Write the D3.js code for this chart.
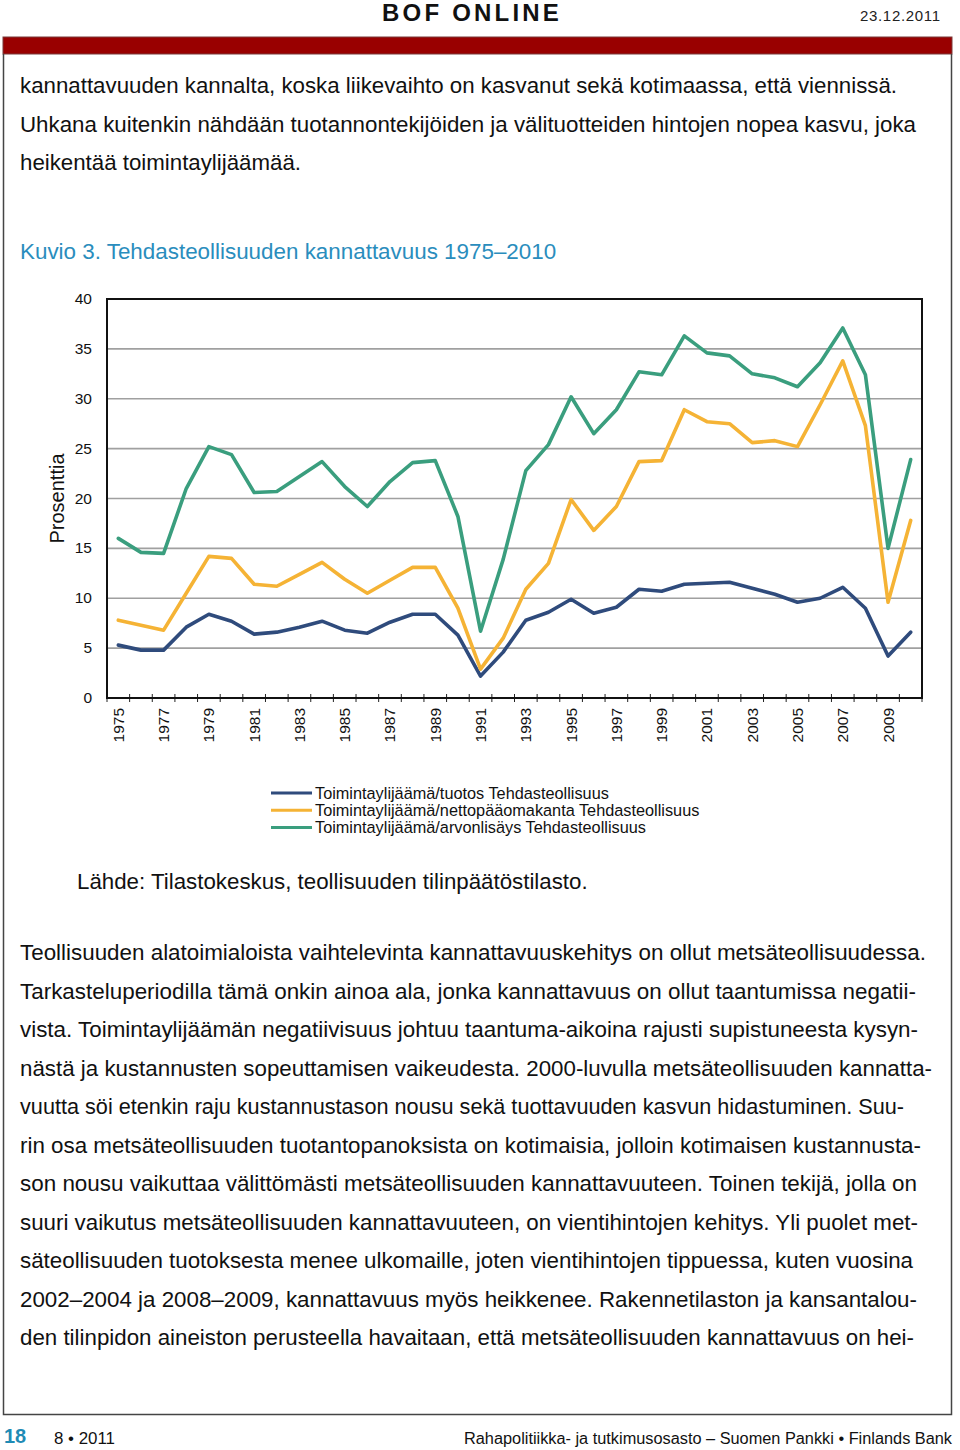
<!DOCTYPE html>
<html><head><meta charset="utf-8">
<script src="https://cdn.jsdelivr.net/npm/d3@7"></script>
<style>
html,body{margin:0;padding:0;background:#fff;}
svg{display:block;font-family:"Liberation Sans",Arial,sans-serif;}
</style></head>
<body>
<script>
const years = d3.range(1975, 2011);
const tickYears = d3.range(1975, 2011, 2);
const yTicks = [0,5,10,15,20,25,30,35,40];
const seriesNames = [
  "Toimintaylijäämä/tuotos Tehdasteollisuus",
  "Toimintaylijäämä/nettopääomakanta Tehdasteollisuus",
  "Toimintaylijäämä/arvonlisäys Tehdasteollisuus"
];
const tuotos = [5.3,4.8,4.8,7.1,8.4,7.7,6.4,6.6,7.1,7.7,6.8,6.5,7.6,8.4,8.4,6.3,2.2,4.6,7.8,8.6,9.9,8.5,9.1,10.9,10.7,11.4,11.5,11.6,11.0,10.4,9.6,10.0,11.1,9.0,4.2,6.6];
const nettopaaoma = [7.8,7.3,6.8,10.5,14.2,14.0,11.4,11.2,12.4,13.6,11.9,10.5,11.8,13.1,13.1,9.0,2.9,6.0,10.9,13.5,19.9,16.8,19.2,23.7,23.8,28.9,27.7,27.5,25.6,25.8,25.2,29.4,33.8,27.3,9.6,17.8];
const arvonlisays = [16.0,14.6,14.5,21.0,25.2,24.4,20.6,20.7,22.2,23.7,21.2,19.2,21.7,23.6,23.8,18.2,6.7,13.9,22.8,25.4,30.2,26.5,28.9,32.7,32.4,36.3,34.6,34.3,32.5,32.1,31.2,33.6,37.1,32.4,15.0,23.9];
const colors = ["#2f4b7c","#f5b335","#3a9e7e"];

const introLines = [
  "kannattavuuden kannalta, koska liikevaihto on kasvanut sekä kotimaassa, että viennissä.",
  "Uhkana kuitenkin nähdään tuotannontekijöiden ja välituotteiden hintojen nopea kasvu, joka",
  "heikentää toimintaylijäämää."
];
const introWidths = [877,896,281];
const bodyLines = [
  "Teollisuuden alatoimialoista vaihtelevinta kannattavuuskehitys on ollut metsäteollisuudessa.",
  "Tarkasteluperiodilla tämä onkin ainoa ala, jonka kannattavuus on ollut taantumissa negatii-",
  "vista. Toimintaylijäämän negatiivisuus johtuu taantuma-aikoina rajusti supistuneesta kysyn-",
  "nästä ja kustannusten sopeuttamisen vaikeudesta. 2000-luvulla metsäteollisuuden kannatta-",
  "vuutta söi etenkin raju kustannustason nousu sekä tuottavuuden kasvun hidastuminen. Suu-",
  "rin osa metsäteollisuuden tuotantopanoksista on kotimaisia, jolloin kotimaisen kustannusta-",
  "son nousu vaikuttaa välittömästi metsäteollisuuden kannattavuuteen. Toinen tekijä, jolla on",
  "suuri vaikutus metsäteollisuuden kannattavuuteen, on vientihintojen kehitys. Yli puolet met-",
  "säteollisuuden tuotoksesta menee ulkomaille, joten vientihintojen tippuessa, kuten vuosina",
  "2002–2004 ja 2008–2009, kannattavuus myös heikkenee. Rakennetilaston ja kansantalou-",
  "den tilinpidon aineiston perusteella havaitaan, että metsäteollisuuden kannattavuus on hei-"
];
const bodyWidths = [906,896,898,912,884,901,897,898,893,897,894];

const W = 960, H = 1450;
const svg = d3.select("body").append("svg").attr("width", W).attr("height", H);

// Header
svg.append("text").attr("x", 472).attr("y", 21).attr("text-anchor","middle")
  .attr("font-size", 24).attr("font-weight","bold").attr("letter-spacing", 3.2)
  .attr("fill","#111").text("BOF ONLINE");
svg.append("text").attr("x", 940).attr("y", 21).attr("text-anchor","end")
  .attr("font-size", 15).attr("fill","#222").attr("textLength", 80).text("23.12.2011");
svg.append("rect").attr("x", 3).attr("y", 37).attr("width", 949).attr("height", 17)
  .attr("fill", "#990000").attr("stroke","#7a3a3a").attr("stroke-width",1);
svg.append("path").attr("d","M3.5,54 V1414.5 H951.5 V54").attr("fill","none")
  .attr("stroke","#444").attr("stroke-width",1.5);

// Intro text
introLines.forEach((t,i)=>{
  svg.append("text").attr("x",20).attr("y",93+i*38.6).attr("font-size",22)
    .attr("fill","#111").attr("textLength", introWidths[i]).attr("lengthAdjust","spacingAndGlyphs").text(t);
});
svg.append("text").attr("x",20).attr("y",259).attr("font-size",22.4)
  .attr("fill","#2a8dbd").text("Kuvio 3. Tehdasteollisuuden kannattavuus 1975–2010");

// Chart
const m = {left:107, right:922, top:299, bottom:698};
const x = d3.scaleBand().domain(years).range([m.left, m.right]);
const y = d3.scaleLinear().domain([0,40]).range([m.bottom, m.top]);
const g = svg.append("g");

g.selectAll("line.grid").data(yTicks.filter(d=>d>0 && d<40)).join("line")
  .attr("x1", m.left).attr("x2", m.right).attr("y1", d=>y(d)).attr("y2", d=>y(d))
  .attr("stroke","#a0a0a0").attr("stroke-width",1.6);

g.selectAll("text.ytick").data(yTicks).join("text")
  .attr("x", 92).attr("y", d=>y(d)+5).attr("text-anchor","end")
  .attr("font-size",15.5).attr("fill","#111").text(d=>d);

g.append("text").attr("transform",`translate(64,${(m.top+m.bottom)/2}) rotate(-90)`)
  .attr("text-anchor","middle").attr("font-size",20).attr("fill","#111").text("Prosenttia");

const bounds = years.map(d=>x(d)).concat([m.right]);
g.selectAll("line.xtick").data(bounds).join("line")
  .attr("x1",d=>d).attr("x2",d=>d).attr("y1",m.bottom-4).attr("y2",m.bottom+4)
  .attr("stroke","#222").attr("stroke-width",1);

g.selectAll("text.xl").data(tickYears).join("text")
  .attr("transform", d=>`translate(${x(d)+x.bandwidth()/2+5.5},${m.bottom+10}) rotate(-90)`)
  .attr("text-anchor","end").attr("font-size",15.5).attr("fill","#111").text(d=>d);

const series = [tuotos, nettopaaoma, arvonlisays];
const line = d3.line().x((d,i)=>x(years[i])+x.bandwidth()/2).y(d=>y(d));
series.forEach((s,k)=>{
  g.append("path").datum(s).attr("d", line).attr("fill","none")
    .attr("stroke", colors[k]).attr("stroke-width",3.6)
    .attr("stroke-linejoin","round").attr("stroke-linecap","round");
});

g.append("rect").attr("x",m.left).attr("y",m.top).attr("width",m.right-m.left)
  .attr("height",m.bottom-m.top).attr("fill","none").attr("stroke","#111").attr("stroke-width",2);

// Legend
seriesNames.forEach((n,k)=>{
  const yy = 793 + k*17.3;
  svg.append("line").attr("x1",271).attr("x2",312).attr("y1",yy).attr("y2",yy)
    .attr("stroke",colors[k]).attr("stroke-width",3);
  svg.append("text").attr("x",315).attr("y",yy+5.5).attr("font-size",16.3)
    .attr("fill","#111").text(n);
});

svg.append("text").attr("x",77).attr("y",889).attr("font-size",22.3)
  .attr("fill","#111").text("Lähde: Tilastokeskus, teollisuuden tilinpäätöstilasto.");

bodyLines.forEach((t,i)=>{
  svg.append("text").attr("x",20).attr("y",960+i*38.5).attr("font-size",22)
    .attr("fill","#111").attr("textLength", bodyWidths[i]).attr("lengthAdjust","spacingAndGlyphs").text(t);
});

// Footer
svg.append("text").attr("x",4).attr("y",1443).attr("font-size",20).attr("font-weight","bold")
  .attr("fill","#1f8bb5").text("18");
svg.append("text").attr("x",54).attr("y",1444).attr("font-size",16).attr("fill","#111")
  .attr("textLength",61).attr("lengthAdjust","spacingAndGlyphs").text("8 • 2011");
svg.append("text").attr("x",952).attr("y",1444).attr("text-anchor","end").attr("font-size",16)
  .attr("fill","#111").attr("textLength",488).attr("lengthAdjust","spacingAndGlyphs")
  .text("Rahapolitiikka- ja tutkimusosasto – Suomen Pankki • Finlands Bank");
</script>
</body></html>
